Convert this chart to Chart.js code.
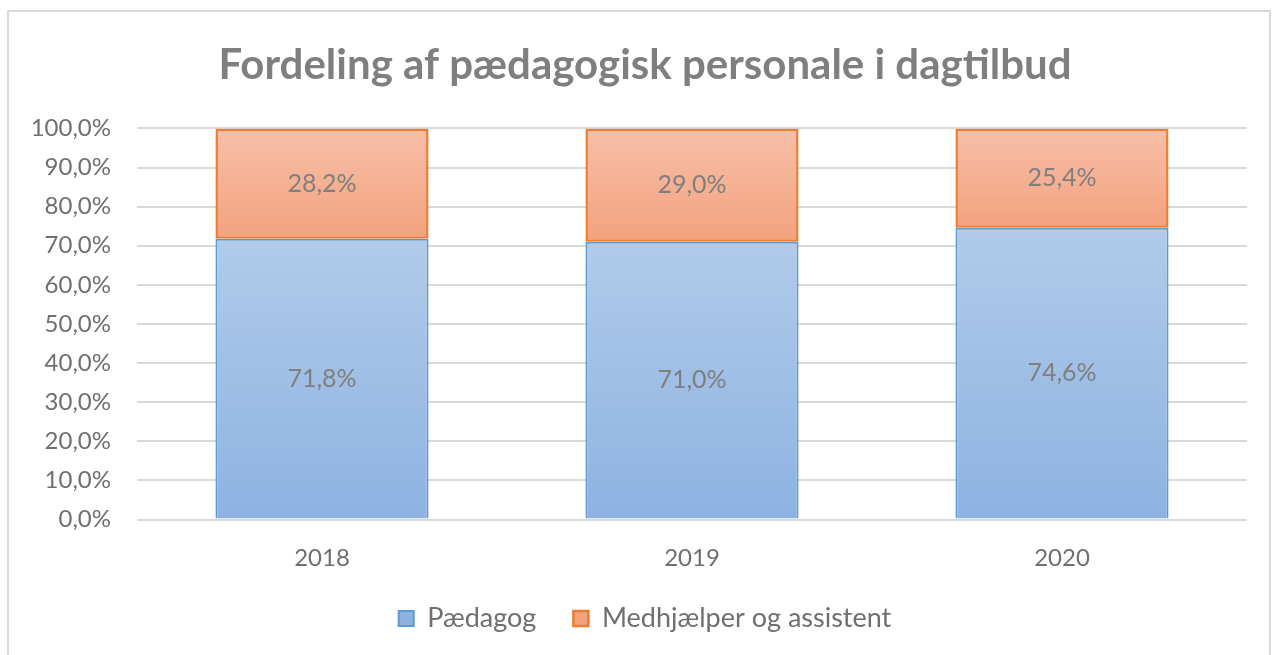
<!DOCTYPE html>
<html>
<head>
<meta charset="utf-8">
<script src="https://cdn.jsdelivr.net/npm/chart.js@4.4.1/dist/chart.umd.min.js"></script>
<style>
  html, body { margin: 0; padding: 0; background: #ffffff; }
  #frame { position: absolute; left: 7px; top: 10px; width: 1264px; height: 660px; border: 2px solid #d9d9d9; box-sizing: border-box; }
  #wrap { position: absolute; left: 0; top: 0; width: 1279px; height: 655px; }
</style>
</head>
<body>
<div id="frame"></div>
<div id="wrap"><canvas id="c" width="1279" height="655"></canvas></div>
<script>
const categories = ['2018', '2019', '2020'];
const paedagogValues = [71.8, 71.0, 74.6];
const medhjaelperValues = [28.2, 29.0, 25.4];
const seriesNames = ['Pædagog', 'Medhjælper og assistent'];
const yTickValues = [0, 10, 20, 30, 40, 50, 60, 70, 80, 90, 100];
const titleText = 'Fordeling af pædagogisk personale i dagtilbud';

const FONT = 'Lato, "Open Sans", sans-serif';
const GREY = '#7f7f7f';
const TICKGREY = '#6f6f6f';

function fmt(v) { return v.toFixed(1).replace('.', ',') + '%'; }

// per-segment vertical gradient, using the library's y scale
function segGrad(ctx, top, bottom, fallback) {
  const chart = ctx.chart;
  const ys = chart.scales && chart.scales.y;
  if (!chart.chartArea || !ys || ctx.dataIndex === undefined) return fallback;
  const i = ctx.datasetIndex, j = ctx.dataIndex;
  let start = 0;
  for (let k = 0; k < i; k++) start += chart.data.datasets[k].data[j];
  const end = start + chart.data.datasets[i].data[j];
  const yTop = ys.getPixelForValue(end);
  const yBot = ys.getPixelForValue(start);
  if (!isFinite(yTop) || !isFinite(yBot) || yTop === yBot) return fallback;
  const g = chart.ctx.createLinearGradient(0, yTop, 0, yBot);
  g.addColorStop(0, top);
  g.addColorStop(1, bottom);
  return g;
}

const labelPlugin = {
  id: 'segLabels',
  afterDatasetsDraw(chart) {
    const c = chart.ctx;
    c.save();
    c.font = '25px ' + FONT;
    c.fillStyle = GREY;
    c.textAlign = 'center';
    c.textBaseline = 'middle';
    chart.data.datasets.forEach((ds, i) => {
      const meta = chart.getDatasetMeta(i);
      meta.data.forEach((bar, j) => {
        const p = bar.getProps(['x', 'y', 'base'], true);
        c.fillText(fmt(ds.data[j]), p.x, (p.y + p.base) / 2);
      });
    });
    c.restore();
  }
};

// let the y tick labels use the room left of the axis box (avoids label clipping)
const yLabelRoom = {
  id: 'yLabelRoom',
  afterLayout(chart) { chart.scales.y.left = 0; }
};

new Chart(document.getElementById('c'), {
  type: 'bar',
  data: {
    labels: categories,
    datasets: [
      {
        label: seriesNames[0],
        data: paedagogValues,
        backgroundColor: (ctx) => segGrad(ctx, '#b1cbe9', '#8db2e2', '#a2c0e6'),
        borderColor: '#5b9bd5',
        borderWidth: 2,
        borderSkipped: 'bottom'
      },
      {
        label: seriesNames[1],
        data: medhjaelperValues,
        backgroundColor: (ctx) => segGrad(ctx, '#f7bfa8', '#f3a27e', '#f5b393'),
        borderColor: '#ed7d31',
        borderWidth: 2.5,
        borderSkipped: false
      }
    ]
  },
  options: {
    responsive: false,
    animation: false,
    devicePixelRatio: 1,
    layout: { padding: { left: 43, right: 32, top: 0, bottom: 13 } },
    datasets: { bar: { categoryPercentage: 1.0, barPercentage: 0.576 } },
    scales: {
      x: {
        stacked: true,
        grid: { display: false, drawTicks: false },
        border: { display: false },
        ticks: { color: TICKGREY, font: { family: FONT, size: 24 }, padding: 24 },
        afterFit: (s) => { s.height = 48.5; }
      },
      y: {
        stacked: true,
        min: 0,
        max: 100,
        afterBuildTicks: (s) => { s.ticks = yTickValues.map(v => ({ value: v })); },
        grid: { color: '#d9d9d9', lineWidth: 2, drawTicks: false },
        border: { display: false },
        ticks: { color: TICKGREY, font: { family: FONT, size: 24 }, padding: 26, callback: (v) => fmt(v) },
        afterFit: (s) => { s.width = 94; }
      }
    },
    plugins: {
      title: {
        display: true,
        text: titleText,
        color: GREY,
        font: { family: FONT, size: 42, weight: 'bold' },
        padding: { top: 40, bottom: 38 }
      },
      legend: {
        position: 'bottom',
        labels: {
          color: TICKGREY,
          font: { family: FONT, size: 27 },
          boxWidth: 15,
          boxHeight: 15,
          padding: 37
        }
      },
      tooltip: { enabled: false }
    }
  },
  plugins: [labelPlugin, yLabelRoom]
});
</script>
</body>
</html>
